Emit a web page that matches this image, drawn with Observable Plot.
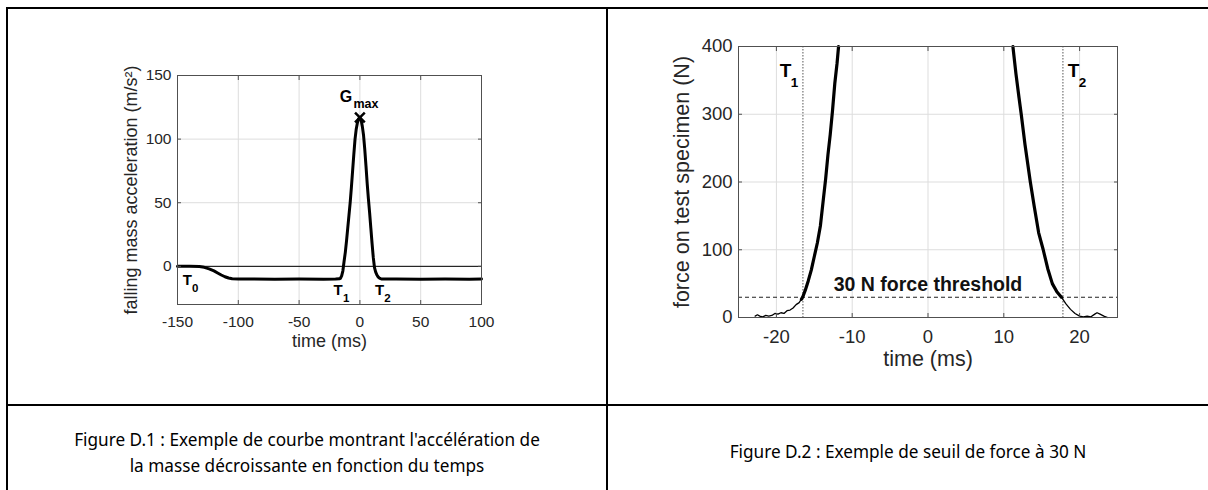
<!DOCTYPE html>
<html>
<head>
<meta charset="utf-8">
<script src="https://cdn.jsdelivr.net/npm/d3@7"></script>
<script src="https://cdn.jsdelivr.net/npm/@observablehq/plot@0.6"></script>
<style>
  html, body { margin: 0; padding: 0; background: #fff; }
  #page { position: relative; width: 1208px; height: 490px; background: #fff; overflow: hidden; }
  .b { position: absolute; background: #000; }
  .cap { position: absolute; font-family: "Noto Sans", "Open Sans", sans-serif; font-size: 17.2px; line-height: 26px; color: #000; text-align: center; }
  .chart { position: absolute; top: 0; }
</style>
</head>
<body>
<div id="page">
  <div id="c1" class="chart" style="left:0px"></div>
  <div id="c2" class="chart" style="left:607px"></div>
  <div class="b" style="left:6px;top:7px;width:2px;height:483px"></div>
  <div class="b" style="left:6px;top:7px;width:1202px;height:2px"></div>
  <div class="b" style="left:606px;top:7px;width:2px;height:483px"></div>
  <div class="b" style="left:6px;top:404px;width:1202px;height:2px"></div>
  <div id="cap1" class="cap" style="left:8px;top:427px;width:598px"></div>
  <div id="cap2" class="cap" style="left:608px;top:439px;width:600px"></div>
</div>
<script>
// ---------- Figure D.1 data ----------
const accTime  = [-150,-140,-132,-128,-124,-120,-117,-114,-111,-108,-105,-100,-90,-70,-50,-30,-20,-17,-16,-15,-14,-13,-12,-11,-10,-9,-8,-7,-6,-5,-4,-3,-2,-1,0,1,2,3,4,5,6,7,8,9,10,11,12,13,14,15,16,17,18,20,30,50,70,90,100];
const accValue = [0,0,-0.2,-0.8,-2,-3.6,-5.2,-6.8,-8.2,-9.2,-9.8,-10,-10,-10.1,-10,-10.1,-10,-9.8,-9.4,-7.5,-3.5,4,11,20,30,40,50,62,75,88,100,108,113,116,117,115,110,103,92,79,65,53,42,30,18,7,-1,-4.5,-6.8,-8.3,-9.2,-9.7,-10,-10,-10,-10.1,-10,-10.1,-10];
const accTicksX = [-150, -100, -50, 0, 50, 100];
const accTicksY = [0, 50, 100, 150];
const accDomainX = [-150, 100];
const accDomainY = [-30, 150];
const gmaxTime = [0];
const gmaxValue = [117];
const accTLabelTime  = [-142, -17.9, 16.1];
const accTLabelValue = [-10.6, -18.6, -18.6];
const accTLabelSub   = ["0", "1", "2"];
const accXTitle = "time (ms)";
const accYTitle = "falling mass acceleration (m/s²)";

// ---------- Figure D.2 data ----------
const forceTime  = [-22.8,-22.5,-22.2,-21.8,-21.4,-21,-20.6,-20.2,-19.8,-19.4,-19,-18.6,-18.2,-17.8,-17.4,-17,-16.7,-16.5,-16.2,-15.8,-15.4,-15,-14.6,-14.2,-13.8,-13.5,-13.2,-12.9,-12.6,-12.3,-12,-11.8,
                    0,
                    11.2,11.6,12,12.3,12.8,13.5,14,14.6,15.2,15.8,16.4,17,17.6,18.2,18.8,19.4,20,20.5,21,21.5,22,22.3,22.7,23.2,23.7];
const forceValue = [2,4,2,1,3,2,3,6,5,7,6,10,11,14,19,22,27,31,40,54,70,90,110,135,175,205,240,270,305,345,375,400,
                    null,
                    400,360,325,300,255,200,165,125,100,72,50,38,30,20,12,6,2,1,2,1,5,7,5,2,0];
const forceTicksX = [-20, -10, 0, 10, 20];
const forceTicksY = [0, 100, 200, 300, 400];
const forceDomainX = [-25, 25];
const forceDomainY = [0, 400];
const thresholdValue = 30;
const thresholdLabel = "30 N force threshold";
const tMarks = [-16.5, 17.8];
const forceTLabelTime  = [-18.8, 19.2];
const forceTLabelValue = [364, 364];
const forceTLabelSub   = ["1", "2"];
const forceXTitle = "time (ms)";
const forceYTitle = "force on test specimen (N)";

// ---------- captions ----------
const caption1 = ["Figure D.1 : Exemple de courbe montrant l'accélération de", "la masse décroissante en fonction du temps"];
const caption2 = ["Figure D.2 : Exemple de seuil de force à 30 N"];

const FONT = "'Liberation Sans', Arial, Helvetica, sans-serif";
const TXT = "#262626";
const GRID = "#dddddd";
const FRAME = "#505050";

function axesMarks(ticksX, ticksY, padX, padY, fs) {
  const blank = () => "";
  const fmt = d => String(d);
  return [
    Plot.axisX(ticksX, {anchor: "bottom", tickSize: 0, tickPadding: padX, tickFormat: fmt, label: null, fontSize: fs, fill: TXT}),
    Plot.axisX(ticksX, {anchor: "bottom", tickSize: -4, tickFormat: blank, label: null, stroke: FRAME}),
    Plot.axisX(ticksX, {anchor: "top", tickSize: -4, tickFormat: blank, label: null, stroke: FRAME}),
    Plot.axisY(ticksY, {anchor: "left", tickSize: 0, tickPadding: padY, tickFormat: fmt, label: null, fontSize: fs, fill: TXT}),
    Plot.axisY(ticksY, {anchor: "left", tickSize: -4, tickFormat: blank, label: null, stroke: FRAME}),
    Plot.axisY(ticksY, {anchor: "right", tickSize: -4, tickFormat: blank, label: null, stroke: FRAME})
  ];
}

// ---------- chart 1 ----------
const accRows = accTime.map((t, i) => ({t, v: accValue[i]}));
const gmax = gmaxTime.map((t, i) => ({t, v: gmaxValue[i]}));
const accLabels = accTLabelTime.map((t, i) => ({t, v: accTLabelValue[i], sub: accTLabelSub[i]}));

const chart1 = Plot.plot({
  width: 600, height: 400,
  marginLeft: 177, marginRight: 119, marginTop: 75, marginBottom: 96,
  style: {fontFamily: FONT, fontSize: "15.5px", color: TXT, background: "transparent", overflow: "visible"},
  x: {domain: accDomainX},
  y: {domain: accDomainY},
  marks: [
    Plot.gridX(accTicksX, {stroke: GRID, strokeOpacity: 1}),
    Plot.gridY(accTicksY, {stroke: GRID, strokeOpacity: 1}),
    Plot.ruleY([0], {stroke: "#000", strokeWidth: 1}),
    Plot.line(accRows, {x: "t", y: "v", stroke: "#000", strokeWidth: 3, strokeLinejoin: "round"}),
    Plot.dot(gmax, {x: "t", y: "v", symbol: "times", r: 4.5, stroke: "#000", strokeWidth: 2.5}),
    Plot.text(gmax, {x: "t", y: "v", text: () => "G", dx: -14, dy: -21, fontWeight: "bold", fontSize: 16, fill: "#000"}),
    Plot.text(gmax, {x: "t", y: "v", text: () => "max", dx: 6, dy: -13, fontWeight: "bold", fontSize: 12.5, fill: "#000"}),
    Plot.text(accLabels, {x: "t", y: "v", text: () => "T", fontWeight: "bold", fontSize: 15, fill: "#000"}),
    Plot.text(accLabels, {x: "t", y: "v", text: "sub", dx: 8, dy: 8, fontWeight: "bold", fontSize: 11.5, fill: "#000"}),
    Plot.frame({stroke: FRAME, strokeWidth: 1}),
    ...axesMarks(accTicksX, accTicksY, 11, 6, 15.5),
    Plot.text([accXTitle], {frameAnchor: "bottom", dy: 37, lineAnchor: "middle", textAnchor: "middle", fontSize: 18, fill: TXT}),
    Plot.text([accYTitle], {frameAnchor: "left", dx: -46, rotate: -90, lineAnchor: "middle", textAnchor: "middle", fontSize: 18, fill: TXT})
  ]
});
document.getElementById("c1").append(chart1);

// ---------- chart 2 ----------
const forceRows = forceTime.map((t, i) => ({t, v: forceValue[i], part: forceValue[i] != null && forceValue[i] >= 25 ? (t < 0 ? "L" : "R") : null}));
const thickRows = forceRows.filter(d => d.part);
const forceLabels = forceTLabelTime.map((t, i) => ({t, v: forceTLabelValue[i], sub: forceTLabelSub[i]}));

const chart2 = Plot.plot({
  width: 600, height: 400,
  marginLeft: 131, marginRight: 90, marginTop: 46, marginBottom: 83,
  style: {fontFamily: FONT, fontSize: "18.5px", color: TXT, background: "transparent", overflow: "visible"},
  x: {domain: forceDomainX},
  y: {domain: forceDomainY},
  marks: [
    Plot.gridX(forceTicksX, {stroke: GRID, strokeOpacity: 1}),
    Plot.gridY(forceTicksY, {stroke: GRID, strokeOpacity: 1}),
    Plot.ruleX(tMarks, {stroke: "#555", strokeWidth: 1, strokeDasharray: "1.5,1.5"}),
    Plot.ruleY([thresholdValue], {stroke: "#222", strokeWidth: 1.1, strokeDasharray: "4,3"}),
    Plot.line(forceRows, {x: "t", y: "v", stroke: "#000", strokeWidth: 1.3, strokeLinejoin: "round"}),
    Plot.line(thickRows, {x: "t", y: "v", z: "part", stroke: "#000", strokeWidth: 3.2, strokeLinejoin: "round"}),
    Plot.text([thresholdLabel], {x: () => 0, y: () => thresholdValue, text: d => d, dy: -12, fontWeight: "bold", fontSize: 19.5, fill: "#111"}),
    Plot.text(forceLabels, {x: "t", y: "v", text: () => "T", fontWeight: "bold", fontSize: 19, fill: "#000"}),
    Plot.text(forceLabels, {x: "t", y: "v", text: "sub", dx: 9, dy: 12, fontWeight: "bold", fontSize: 13.5, fill: "#000"}),
    Plot.frame({stroke: FRAME, strokeWidth: 1}),
    ...axesMarks(forceTicksX, forceTicksY, 12, 6, 18.5),
    Plot.text([forceXTitle], {frameAnchor: "bottom", dy: 42, lineAnchor: "middle", textAnchor: "middle", fontSize: 21.5, fill: TXT}),
    Plot.text([forceYTitle], {frameAnchor: "left", dx: -56, rotate: -90, lineAnchor: "middle", textAnchor: "middle", fontSize: 21.5, fill: TXT})
  ]
});
document.getElementById("c2").append(chart2);

document.getElementById("cap1").innerHTML = caption1.map(s => `<div>${s}</div>`).join("");
document.getElementById("cap2").innerHTML = caption2.map(s => `<div>${s}</div>`).join("");
</script>
</body>
</html>
